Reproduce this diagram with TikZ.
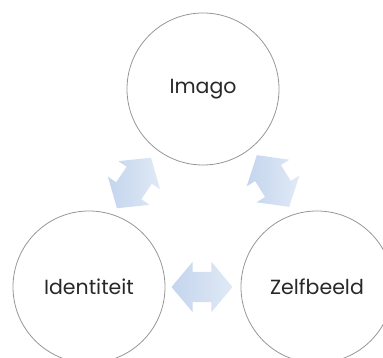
\documentclass[tikz,border=0pt]{standalone}
\usepackage{fontspec}
\setmainfont{Poppins}
\usetikzlibrary{shapes.arrows}
\definecolor{ringgray}{RGB}{150,150,150}
\definecolor{arrowblue}{RGB}{196,213,237}
\definecolor{arrowlight}{RGB}{224,233,246}
\definecolor{labelgray}{RGB}{40,40,40}
\begin{document}
\begin{tikzpicture}[x=1pt,y=1pt,
        circ/.style={circle,draw=ringgray,line width=0.8pt,minimum size=152pt,inner sep=0pt,
            text=labelgray,font=\fontsize{20.5}{24}\selectfont},
        blockarrow/.style={double arrow,minimum height=61pt,minimum width=50pt,
            inner xsep=0pt,inner ysep=15pt,
            double arrow head extend=10pt,double arrow tip angle=100,
            left color=arrowblue,right color=arrowlight,draw=none}]
                \useasboundingbox(0,0)rectangle(383,358);
                \node[circ](imago)at(203,269){Imago};
                \node[circ](ident)at(89,71){Identiteit};
                \node[circ](zelf)at(317,71){Zelfbeeld};
                % arrows between the rings
                \node[blockarrow,rotate=56](imid)at(134,175){};
                \node[blockarrow,rotate=-58](imze)at(273,177){};
                \node[blockarrow](idze)at(202,71){};
            \end{tikzpicture}
\end{document}
